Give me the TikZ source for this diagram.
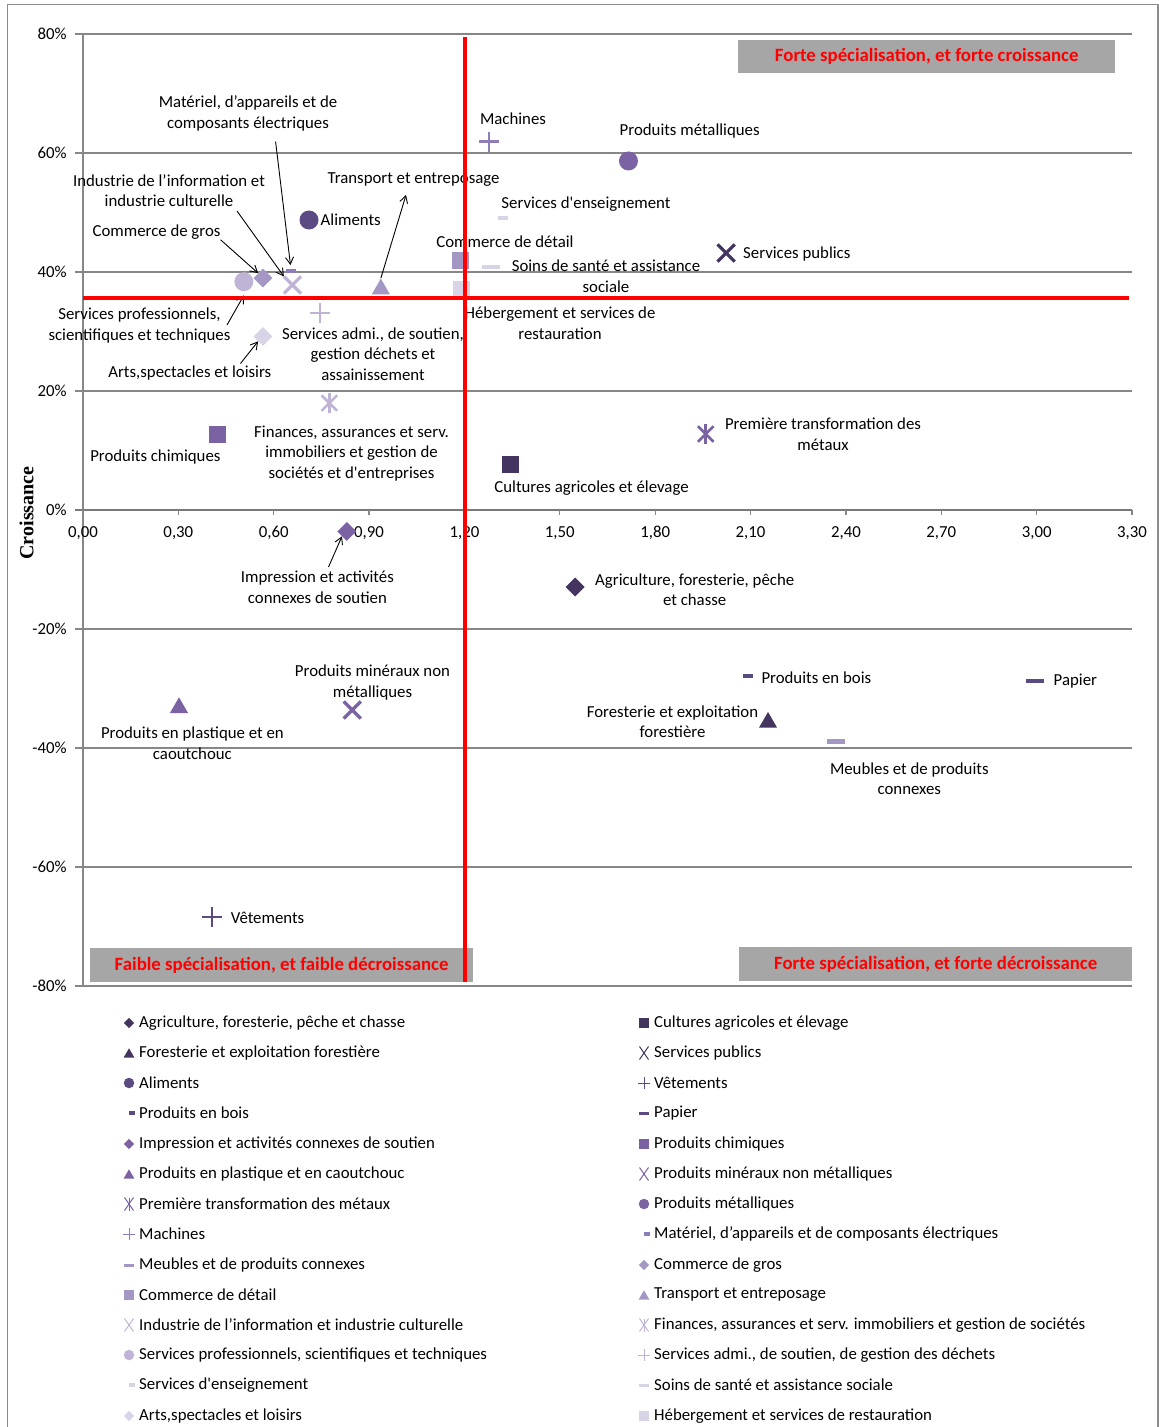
\documentclass[tikz,border=0pt]{standalone}
\usepackage{fontspec}
\setmainfont{Carlito}
\newfontfamily\titfont{Liberation Serif}
\usetikzlibrary{shapes.geometric,shapes.misc,arrows.meta}
\definecolor{pA}{HTML}{433460}
\definecolor{pB}{HTML}{5C4A82}
\definecolor{pC}{HTML}{7A62A3}
\definecolor{pD}{HTML}{8F7DB7}
\definecolor{pE}{HTML}{A497C4}
\definecolor{pF}{HTML}{C0B4D6}
\definecolor{pG}{HTML}{D9D3E8}
\definecolor{gridgray}{HTML}{878787}
\definecolor{boxgray}{HTML}{A6A6A6}
\definecolor{framegray}{HTML}{8C8C8C}
\newcommand{\lblfont}{\fontsize{16.8}{20.7}\selectfont}

\begin{document}
\begin{tikzpicture}[x=1pt,y=-1pt,
    >={Straight Barb[length=7pt,width=8pt]},
    gline/.style={draw=gridgray,line width=1.2pt},
    axis0/.style={draw=gridgray!90!black,line width=2.6pt},
    redl/.style={draw=red,line width=4pt},
    arr/.style={->,line width=0.9pt},
    lbl/.style={font=\lblfont,align=center,inner sep=0pt},
    ticklbl/.style={font=\lblfont,inner sep=0pt},
    qbox/.style={fill=boxgray,text=red,font=\fontsize{18.8}{22}\selectfont\bfseries,inner sep=0pt},
    dmd/.style={diamond,fill=#1,inner sep=0pt,minimum size=19pt},
    sq/.style={rectangle,fill=#1,inner sep=0pt,minimum size=17pt},
    tri/.style={regular polygon,regular polygon sides=3,fill=#1,inner sep=0pt,minimum size=21pt},
    cir/.style={circle,fill=#1,inner sep=0pt,minimum size=19pt},
    xx/.style={cross out,draw=#1,line width=3.2pt,inner sep=0pt,minimum size=14pt},
    pl/.style={cross out,rotate=45,draw=#1,line width=2.4pt,inner sep=0pt,minimum size=11.5pt},
    ast/.style={cross out,draw=#1,line width=2.6pt,inner sep=0pt,minimum size=13pt},
    dsh/.style={rectangle,fill=#1,inner sep=0pt,minimum width=18pt,minimum height=4.5pt},
    sdsh/.style={rectangle,fill=#1,inner sep=0pt,minimum width=10pt,minimum height=4.5pt},
    lgs/.style={minimum size=10.5pt},
    lgtri/.style={minimum size=12.5pt},
    lgx/.style={minimum width=8pt,minimum height=12pt,line width=1pt},
    lgpl/.style={minimum size=7pt,line width=1pt},
    lgd/.style={minimum width=10pt,minimum height=3pt},
    lgsd/.style={minimum width=6pt,minimum height=3.5pt}]
\useasboundingbox (0,0) rectangle (1159,1427);
% 外框
\draw[draw=framegray,line width=1.3pt] (7.5,4.5) rectangle (1158,1440);
\node[font=\titfont\bfseries\fontsize{20}{24}\selectfont,rotate=90,inner sep=0pt] (yTitle) at (26.5,513) {Croissance};

\begin{scope}[shift={(83,510)},x=317.88pt,y=5.95pt]
% 网格与坐标轴
\draw[gline] (-0.025,80) -- (3.3,80) (-0.025,60) -- (3.3,60) (-0.025,40) -- (3.3,40) (-0.025,20) -- (3.3,20)
  (-0.025,-20) -- (3.3,-20) (-0.025,-40) -- (3.3,-40) (-0.025,-60) -- (3.3,-60) (-0.025,-80) -- (3.3,-80);
\draw[gline] (0,80) -- (0,-80);
\draw[axis0] (-0.025,0) -- (3.3,0);
\draw[gline] (0,0) -- (0,-0.9) (0.3,0) -- (0.3,-0.9) (0.6,0) -- (0.6,-0.9) (0.9,0) -- (0.9,-0.9)
  (1.2,0) -- (1.2,-0.9) (1.5,0) -- (1.5,-0.9) (1.8,0) -- (1.8,-0.9) (2.1,0) -- (2.1,-0.9)
  (2.4,0) -- (2.4,-0.9) (2.7,0) -- (2.7,-0.9) (3.0,0) -- (3.0,-0.9) (3.3,0) -- (3.3,-0.9);
\node[ticklbl] (tx0) at (0,-3.87) {0,00};
\node[ticklbl] (tx1) at (0.3,-3.87) {0,30};
\node[ticklbl] (tx2) at (0.6,-3.87) {0,60};
\node[ticklbl] (tx3) at (0.9,-3.87) {0,90};
\node[ticklbl] (tx4) at (1.2,-3.87) {1,20};
\node[ticklbl] (tx5) at (1.5,-3.87) {1,50};
\node[ticklbl] (tx6) at (1.8,-3.87) {1,80};
\node[ticklbl] (tx7) at (2.1,-3.87) {2,10};
\node[ticklbl] (tx8) at (2.4,-3.87) {2,40};
\node[ticklbl] (tx9) at (2.7,-3.87) {2,70};
\node[ticklbl] (tx10) at (3.0,-3.87) {3,00};
\node[ticklbl] (tx11) at (3.3,-3.87) {3,30};
\node[ticklbl,anchor=east] (ty80) at (-0.051,80) {80\%};
\node[ticklbl,anchor=east] (ty60) at (-0.051,60) {60\%};
\node[ticklbl,anchor=east] (ty40) at (-0.051,40) {40\%};
\node[ticklbl,anchor=east] (ty20) at (-0.051,20) {20\%};
\node[ticklbl,anchor=east] (ty0) at (-0.051,0) {0\%};
\node[ticklbl,anchor=east] (tym20) at (-0.051,-20) {-20\%};
\node[ticklbl,anchor=east] (tym40) at (-0.051,-40) {-40\%};
\node[ticklbl,anchor=east] (tym60) at (-0.051,-60) {-60\%};
\node[ticklbl,anchor=east] (tym80) at (-0.051,-80) {-80\%};

% 数据点
\node[dmd=pA] (mAgri) at (1.548,-12.94) {};
\node[sq=pA] (mCult) at (1.346,7.73) {};
\node[tri=pA] (mFor) at (2.155,-35.71) {};
\node[xx=pA] (mPub) at (2.023,43.19) {};
\node[cir=pB] (mAlim) at (0.711,48.74) {};
\node[pl=pB] (mVet) at (0.406,-68.40) {};
\node[sdsh=pB] (mBois) at (2.092,-27.90) {};
\node[dsh=pB] (mPap) at (2.995,-28.74) {};
\node[dmd=pC] (mImpr) at (0.830,-3.61) {};
\node[sq=pC] (mChim) at (0.423,12.61) {};
\node[tri=pC] (mPlas) at (0.302,-33.24) {};
\node[xx=pC] (mMin) at (0.847,-33.61) {};
\node[ast=pC] (mPrem) at (1.959,12.77) {};
\node[cir=pC] (mMet) at (1.716,58.66) {};
\node[pl=pD] (mMach) at (1.277,61.90) {};
\node[sdsh=pD] (mMat) at (0.654,40.17) {};
\node[dsh=pE] (mMeu) at (2.369,-38.94) {};
\node[dmd=pE] (mGros) at (0.566,38.99) {};
\node[sq=pE] (mDet) at (1.188,41.85) {};
\node[tri=pE] (mTrans) at (0.937,37.13) {};
\node[xx=pF] (mInfo) at (0.659,37.82) {};
\node[ast=pF] (mFin) at (0.775,17.98) {};
\node[cir=pF] (mProf) at (0.506,38.37) {};
\node[pl=pF] (mAdmi) at (0.746,33.11) {};
\node[sdsh=pG] (mEns) at (1.320,49.08) {};
\node[dsh=pG] (mSoins) at (1.283,40.84) {};
\node[dmd=pG] (mArts) at (0.566,29.16) {};
\node[sq=pG] (mHeb) at (1.192,37.14) {};
\draw[pC,line width=2.6pt] ([yshift=2pt]mPrem.north) -- ([yshift=-2pt]mPrem.south);
\draw[pF,line width=2.6pt] ([yshift=2pt]mFin.north) -- ([yshift=-2pt]mFin.south);
\end{scope}

% 象限说明
\node[qbox,minimum width=376.7pt,minimum height=33.3pt] (bHaut) at (926.7,56.7) {Forte spécialisation, et forte croissance};
\node[qbox,minimum width=382.8pt,minimum height=34pt] (bFaible) at (281.6,965) {Faible spécialisation, et faible décroissance};
\node[qbox,minimum width=393.3pt,minimum height=34.3pt] (bBas) at (935.7,963.9) {Forte spécialisation, et forte décroissance};

% 标注
\node[lbl] (lbMat) at (248,113.3) {Matériel, d’appareils et de\\composants électriques};
\node[lbl] (lbMach) at (513,119) {Machines};
\node[lbl] (lbInfo) at (169,190.5) {Industrie de l’information et\\industrie culturelle};
\node[lbl] (lbTrans) at (413.6,180) {Transport et entreposage};
\node[lbl,anchor=west] (lbAlim) at (320.5,219.3) {Aliments};
\node[lbl] (lbGros) at (156.5,232.3) {Commerce de gros};
\node[lbl] (lbDet) at (505,242) {Commerce de détail};
\node[lbl] (lbEns) at (586,204) {Services d\textquotesingle enseignement};
\node[lbl] (lbSoins) at (606,276.5) {Soins de santé et assistance\\sociale};
\node[lbl,anchor=west] (lbPub) at (743,254) {Services publics};
\node[lbl] (lbMet) at (689.7,130.7) {Produits métalliques};
\node[lbl] (lbProf) at (139.5,325.5) {Services professionnels,\\scientifiques et techniques};
\node[lbl] (lbAdmi) at (373,354) {Services admi., de soutien,\\gestion déchets et\\assainissement};
\node[lbl] (lbArts) at (189.8,373.3) {Arts,spectacles et loisirs};
\node[lbl] (lbHeb) at (560,323.5) {Hébergement et services de\\restauration};
\node[lbl] (lbChim) at (155.4,457.3) {Produits chimiques};
\node[lbl] (lbFin) at (351.5,453.3) {Finances, assurances et serv.\\immobiliers et gestion de\\sociétés et d\textquotesingle entreprises};
\node[lbl] (lbCult) at (591.5,488) {Cultures agricoles et élevage};
\node[lbl] (lbPrem) at (823,434.5) {Première transformation des\\métaux};
\node[lbl] (lbImpr) at (317.4,587) {Impression et activités\\connexes de soutien};
\node[lbl] (lbAgri) at (694.7,589.7) {Agriculture, foresterie, pêche\\et chasse};
\node[lbl] (lbMin) at (372.5,682.5) {Produits minéraux non\\métalliques};
\node[lbl] (lbPlas) at (192.4,743) {Produits en plastique et en\\caoutchouc};
\node[lbl,anchor=west] (lbBois) at (761.3,677.7) {Produits en bois};
\node[lbl,anchor=west] (lbPap) at (1053.5,681) {Papier};
\node[lbl] (lbFor) at (672.5,721.7) {Foresterie et exploitation\\forestière};
\node[lbl] (lbMeu) at (909.3,778.8) {Meubles et de produits\\connexes};
\node[lbl,anchor=west] (lbVet) at (230.6,918.3) {Vêtements};

% 箭头
\coordinate (aInfo) at (237,211);
\coordinate (aMat) at (275.6,141.7);
\coordinate (aTrans) at (406,195);
\coordinate (aProf) at (227,325);
\coordinate (aArts) at (240.5,363.5);
\coordinate (aImpr) at (328.5,567);
\draw[arr] (lbGros.south east) -- (mGros.north west);
\draw[arr] (aInfo) -- (mInfo.north west);
\draw[arr,shorten >=3.5pt] (aMat) -- (mMat.north);
\draw[arr] (mTrans.north) -- (aTrans);
\draw[arr] (aProf) -- ([yshift=-4pt]mProf.south);
\draw[arr] (aArts) -- (mArts.south west);
\draw[arr] (aImpr) -- (mImpr.south west);

% 红色分界线
\draw[redl] (464.5,37) -- (464.5,982);
\draw[redl] (83,298) -- (1128.5,298);

% 图例
\node[dmd=pA,lgs] (gAgri) at (129,1023) {};
\node[lbl,anchor=west] (tAgri) at (139,1023) {Agriculture, foresterie, pêche et chasse};
\node[sq=pA,lgs] (gCult) at (644,1023) {};
\node[lbl,anchor=west] (tCult) at (654,1023) {Cultures agricoles et élevage};
\node[tri=pA,lgtri] (gFor) at (129,1054.5) {};
\node[lbl,anchor=west] (tFor) at (139,1053) {Foresterie et exploitation forestière};
\node[xx=pA,lgx] (gPub) at (644,1053) {};
\node[lbl,anchor=west] (tPub) at (654,1053) {Services publics};
\node[cir=pB,lgs] (gAlim) at (129,1083) {};
\node[lbl,anchor=west] (tAlim) at (139,1083) {Aliments};
\node[pl=pB,lgpl] (gVet) at (644,1083) {};
\node[lbl,anchor=west] (tVet) at (654,1083) {Vêtements};
\node[sdsh=pB,lgsd] (gBois) at (132,1113) {};
\node[lbl,anchor=west] (tBois) at (139,1113) {Produits en bois};
\node[dsh=pB,lgd] (gPap) at (644,1113) {};
\node[lbl,anchor=west] (tPap) at (654,1113) {Papier};
\node[dmd=pC,lgs] (gImpr) at (129,1144) {};
\node[lbl,anchor=west] (tImpr) at (139,1144) {Impression et activités connexes de soutien};
\node[sq=pC,lgs] (gChim) at (644,1144) {};
\node[lbl,anchor=west] (tChim) at (654,1144) {Produits chimiques};
\node[tri=pC,lgtri] (gPlas) at (129,1175.5) {};
\node[lbl,anchor=west] (tPlas) at (139,1174) {Produits en plastique et en caoutchouc};
\node[xx=pC,lgx] (gMin) at (644,1174) {};
\node[lbl,anchor=west] (tMin) at (654,1174) {Produits minéraux non métalliques};
\node[ast=pC,lgx] (gPrem) at (129,1204) {};
\draw[pC,line width=1pt] (gPrem.north) -- (gPrem.south);
\node[lbl,anchor=west] (tPrem) at (139,1204) {Première transformation des métaux};
\node[cir=pC,lgs] (gMet) at (644,1204) {};
\node[lbl,anchor=west] (tMet) at (654,1204) {Produits métalliques};
\node[pl=pD,lgpl] (gMach) at (129,1234) {};
\node[lbl,anchor=west] (tMach) at (139,1234) {Machines};
\node[sdsh=pD,lgsd] (gMat) at (647,1234) {};
\node[lbl,anchor=west] (tMat) at (654,1234) {Matériel, d’appareils et de composants électriques};
\node[dsh=pE,lgd] (gMeu) at (129,1265) {};
\node[lbl,anchor=west] (tMeu) at (139,1265) {Meubles et de produits connexes};
\node[dmd=pE,lgs] (gGros) at (644,1265) {};
\node[lbl,anchor=west] (tGros) at (654,1265) {Commerce de gros};
\node[sq=pE,lgs] (gDet) at (129,1295) {};
\node[lbl,anchor=west] (tDet) at (139,1295) {Commerce de détail};
\node[tri=pE,lgtri] (gTrans) at (644,1296.5) {};
\node[lbl,anchor=west] (tTrans) at (654,1295) {Transport et entreposage};
\node[xx=pF,lgx] (gInfo) at (129,1325) {};
\node[lbl,anchor=west] (tInfo) at (139,1325) {Industrie de l’information et industrie culturelle};
\node[ast=pF,lgx] (gFin) at (644,1325) {};
\draw[pF,line width=1pt] (gFin.north) -- (gFin.south);
\node[lbl,anchor=west] (tFin) at (654,1325) {Finances, assurances et serv. immobiliers et gestion de sociétés};
\node[cir=pF,lgs] (gProf) at (129,1355) {};
\node[lbl,anchor=west] (tProf) at (139,1355) {Services professionnels, scientifiques et techniques};
\node[pl=pF,lgpl] (gAdmi) at (644,1355) {};
\node[lbl,anchor=west] (tAdmi) at (654,1355) {Services admi., de soutien, de gestion des déchets};
\node[sdsh=pG,lgsd] (gEns) at (132,1385) {};
\node[lbl,anchor=west] (tEns) at (139,1385) {Services d\textquotesingle enseignement};
\node[dsh=pG,lgd] (gSoins) at (644,1385) {};
\node[lbl,anchor=west] (tSoins) at (654,1385) {Soins de santé et assistance sociale};
\node[dmd=pG,lgs] (gArts) at (129,1416) {};
\node[lbl,anchor=west] (tArts) at (139,1416) {Arts,spectacles et loisirs};
\node[sq=pG,lgs] (gHeb) at (644,1416) {};
\node[lbl,anchor=west] (tHeb) at (654,1416) {Hébergement et services de restauration};
\end{tikzpicture}
\end{document}
